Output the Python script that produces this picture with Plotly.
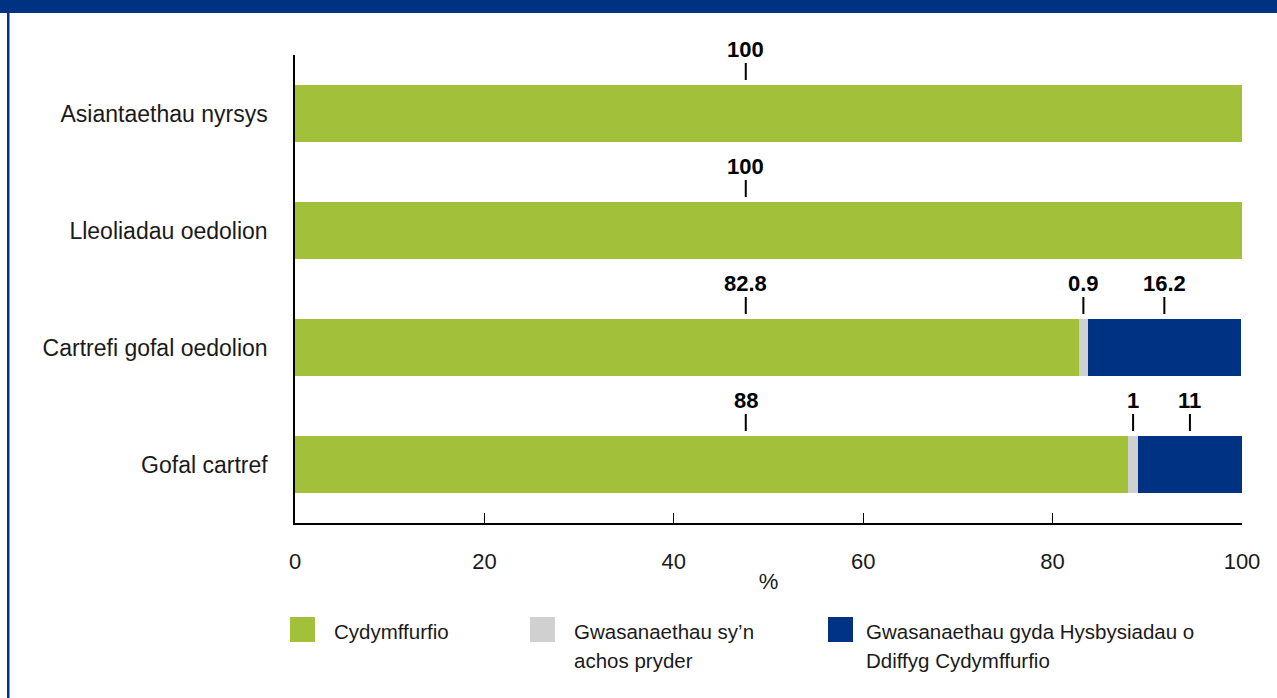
import plotly.graph_objects as go

# ---- data ----
categories = ["Asiantaethau nyrsys", "Lleoliadau oedolion", "Cartrefi gofal oedolion", "Gofal cartref"]
compliant = [100, 100, 82.8, 88]
concern = [0, 0, 0.9, 1]
noncompliant = [0, 0, 16.2, 11]
series_names = ["Cydymffurfio", "Gwasanaethau sy’n<br>achos pryder", "Gwasanaethau gyda Hysbysiadau o<br>Ddiffyg Cydymffurfio"]
x_ticks = [0, 20, 40, 60, 80, 100]
x_title = "%"

# ---- style ----
GREEN = "#a3c03a"
GREY = "#d0d0d0"
BLUE = "#003283"
TEXT = "#1a1a1a"
FONT = "Liberation Sans, Arial, sans-serif"
W, H = 1277, 698
L, R, T, B = 295, 35, 55, 175

def px_x(p):
    return (p - L) / (W - L - R)

def px_y(p):
    return (H - B - p) / (H - T - B)

fig = go.Figure()
colors = [GREEN, GREY, BLUE]
for name, vals, col in zip(series_names, [compliant, concern, noncompliant], colors):
    fig.add_trace(go.Bar(
        y=categories, x=vals, orientation="h", name=name.replace("<br>", " "),
        marker=dict(color=col, line=dict(width=0)), showlegend=False,
        hoverinfo="x+y",
    ))

# value labels with small leader ticks
GREEN_LABEL_X = 47.6
label_font = dict(family=FONT, size=22, color="black")
for i, cat in enumerate(categories):
    segs = []
    segs.append((compliant[i], GREEN_LABEL_X))
    if concern[i] > 0:
        segs.append((concern[i], compliant[i] + concern[i] / 2))
    if noncompliant[i] > 0:
        segs.append((noncompliant[i], compliant[i] + concern[i] + noncompliant[i] / 2))
    for v, xpos in segs:
        fig.add_annotation(
            x=xpos, y=cat, xref="x", yref="y", yshift=33.5,
            text="<b>%g</b>" % v, showarrow=True, arrowhead=0, arrowwidth=2,
            arrowcolor="black", ax=0, ay=-31, standoff=0,
            font=label_font,
        )

# custom legend
leg_sq_x = [290, 530, 828]
leg_txt_x = [332, 572, 864]
for name, col, sx, tx in zip(series_names, colors, leg_sq_x, leg_txt_x):
    fig.add_shape(type="rect", xref="paper", yref="paper",
                  x0=px_x(sx), x1=px_x(sx + 25), y0=px_y(642), y1=px_y(617),
                  fillcolor=col, line=dict(width=0))
    for j, line in enumerate(name.split("<br>")):
        fig.add_annotation(
            x=px_x(tx), y=px_y(631 + j * 29), xref="paper", yref="paper",
            xanchor="left", yanchor="middle", showarrow=False, text=line,
            font=dict(family=FONT, size=20.5, color=TEXT),
        )

# frame decoration: top band and left rule
fig.add_shape(type="rect", xref="paper", yref="paper",
              x0=px_x(0), x1=px_x(W), y0=px_y(13), y1=px_y(0),
              fillcolor=BLUE, line=dict(width=0), layer="above")
fig.add_shape(type="rect", xref="paper", yref="paper",
              x0=px_x(7), x1=px_x(9.5), y0=px_y(H), y1=px_y(0),
              fillcolor=BLUE, line=dict(width=0), layer="above")

fig.update_layout(
    width=W, height=H,
    margin=dict(l=L, r=R, t=T, b=B, pad=0),
    barmode="stack", bargap=0.515,
    plot_bgcolor="white", paper_bgcolor="white",
    font=dict(family=FONT, size=22, color=TEXT),
    showlegend=False,
)
fig.update_xaxes(
    range=[0, 100], tickvals=x_ticks, ticks="inside", ticklen=10, tickwidth=1,
    tickcolor="black", showline=True, linecolor="black", linewidth=1.5,
    showgrid=False, zeroline=False, ticklabelstandoff=18,
    title=dict(text=x_title, standoff=0, font=dict(size=22, family=FONT, color=TEXT)),
    tickfont=dict(size=22, family=FONT, color=TEXT),
)
fig.update_yaxes(
    categoryorder="array", categoryarray=categories,
    range=[len(categories) - 0.5, -0.5],
    showline=True, linecolor="black", linewidth=1.5, ticks="",
    showgrid=False, zeroline=False, ticklabelstandoff=21,
    tickfont=dict(size=23, family=FONT, color=TEXT),
)

fig.write_html(
    "out.html",
    config={"displayModeBar": False},
    post_script="document.body.style.margin='0';document.body.style.overflow='hidden';",
)
